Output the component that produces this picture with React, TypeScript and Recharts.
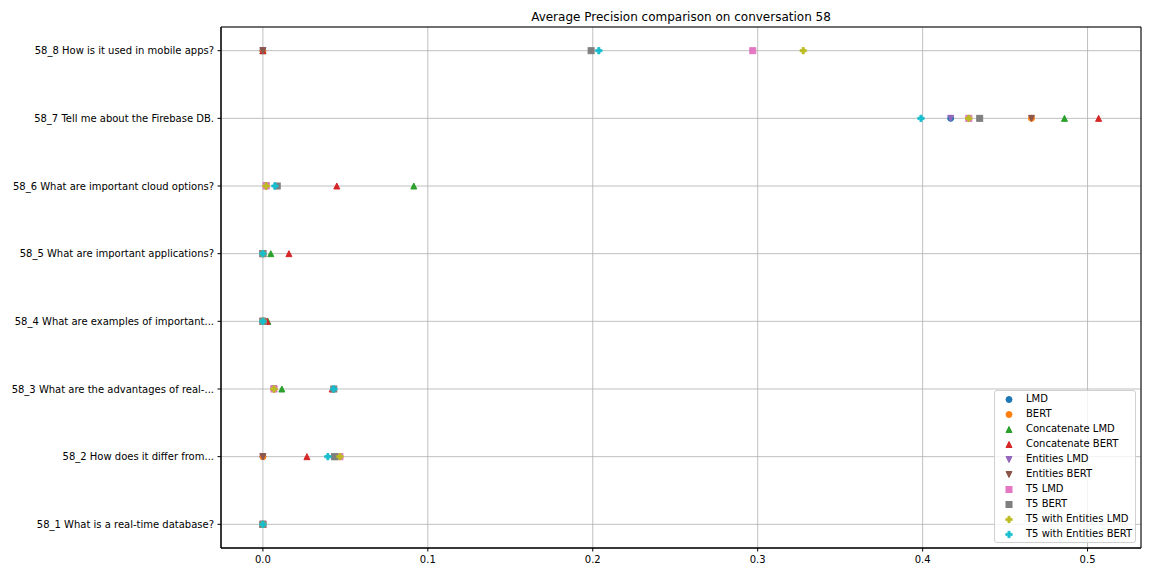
import React from 'react'
import {
  ScatterChart,
  Scatter,
  XAxis,
  YAxis,
  CartesianGrid,
  ReferenceArea,
} from 'recharts'

const preguntas = [
  '58_1 What is a real-time database?',
  '58_2 How does it differ from...',
  '58_3 What are the advantages of real-...',
  '58_4 What are examples of important...',
  '58_5 What are important applications?',
  '58_6 What are important cloud options?',
  '58_7 Tell me about the Firebase DB.',
  '58_8 How is it used in mobile apps?',
]

const lmd = [0, 0, 0.0067, 0, 0, 0.002, 0.417, 0]
const bert = [0, 0, 0.0067, 0, 0, 0.002, 0.466, 0]
const concatLmd = [0, 0.0434, 0.0115, 0.003, 0.0048, 0.0915, 0.486, 0]
const concatBert = [0, 0.0267, 0.042, 0.0025, 0.0158, 0.0448, 0.5067, 0]
const entitiesLmd = [0, 0, 0.0067, 0, 0, 0.002, 0.417, 0]
const entitiesBert = [0, 0, 0.0067, 0, 0, 0.002, 0.466, 0]
const t5Lmd = [0, 0.0467, 0.0067, 0, 0, 0.002, 0.428, 0.297]
const t5Bert = [0, 0.0434, 0.043, 0, 0, 0.0087, 0.4346, 0.199]
const t5EntLmd = [0, 0.0467, 0.0067, 0, 0, 0.002, 0.428, 0.3276]
const t5EntBert = [0, 0.0394, 0.043, 0, 0, 0.0073, 0.399, 0.2037]

const xTicks = [0, 0.1, 0.2, 0.3, 0.4, 0.5]
const yTicks = [0, 1, 2, 3, 4, 5, 6, 7]

type Marca = 'o' | '^' | 'v' | 's' | 'P'

const series: { nombre: string; valores: number[]; color: string; marca: Marca }[] = [
  { nombre: 'LMD', valores: lmd, color: '#1f77b4', marca: 'o' },
  { nombre: 'BERT', valores: bert, color: '#ff7f0e', marca: 'o' },
  { nombre: 'Concatenate LMD', valores: concatLmd, color: '#2ca02c', marca: '^' },
  { nombre: 'Concatenate BERT', valores: concatBert, color: '#d62728', marca: '^' },
  { nombre: 'Entities LMD', valores: entitiesLmd, color: '#9467bd', marca: 'v' },
  { nombre: 'Entities BERT', valores: entitiesBert, color: '#8c564b', marca: 'v' },
  { nombre: 'T5 LMD', valores: t5Lmd, color: '#e377c2', marca: 's' },
  { nombre: 'T5 BERT', valores: t5Bert, color: '#7f7f7f', marca: 's' },
  { nombre: 'T5 with Entities LMD', valores: t5EntLmd, color: '#bcbd22', marca: 'P' },
  { nombre: 'T5 with Entities BERT', valores: t5EntBert, color: '#17becf', marca: 'P' },
]

const FUENTE = '"DejaVu Sans", sans-serif'

function marcador(marca: Marca, cx: number, cy: number, color: string) {
  const r = 3
  switch (marca) {
    case 'o':
      return <circle cx={cx} cy={cy} r={r} fill={color} stroke={color} strokeWidth={1} />
    case '^':
      return (
        <polygon
          points={`${cx},${cy - r} ${cx - r},${cy + r} ${cx + r},${cy + r}`}
          fill={color}
          stroke={color}
          strokeWidth={1}
        />
      )
    case 'v':
      return (
        <polygon
          points={`${cx},${cy + r} ${cx - r},${cy - r} ${cx + r},${cy - r}`}
          fill={color}
          stroke={color}
          strokeWidth={1}
        />
      )
    case 's':
      return (
        <rect x={cx - r} y={cy - r} width={2 * r} height={2 * r} fill={color} stroke={color} strokeWidth={1} />
      )
    case 'P': {
      const a = 3.2
      const b = 1.1
      const d = `M${cx - b},${cy - a}H${cx + b}V${cy - b}H${cx + a}V${cy + b}H${cx + b}V${cy + a}H${cx - b}V${cy + b}H${cx - a}V${cy - b}H${cx - b}Z`
      return <path d={d} fill={color} stroke={color} strokeWidth={0.8} />
    }
  }
}

// etiqueta del eje Y sin saltos de línea
function TickPregunta({ x, y, payload }: { x?: number; y?: number; payload?: { value: number } }) {
  return (
    <text x={x} y={y} dy="0.355em" textAnchor="end" fontSize={10} fill="#000" fontFamily={FUENTE}>
      {preguntas[payload?.value ?? 0]}
    </text>
  )
}

function Leyenda() {
  return (
    <div
      style={{
        position: 'absolute',
        left: 994,
        top: 390,
        width: 140,
        height: 151,
        border: '1px solid #d0d0d0',
        borderRadius: 3,
        background: 'rgba(255,255,255,0.8)',
        fontFamily: FUENTE,
        fontSize: 10,
        color: '#000',
      }}
    >
      {series.map((s, i) => (
        <div
          key={s.nombre}
          style={{ position: 'absolute', left: 0, top: 1 + i * 15, height: 15, width: 140 }}
        >
          <svg width={20} height={15} style={{ position: 'absolute', left: 6, top: 0 }}>
            {marcador(s.marca, 8, 7.5, s.color)}
          </svg>
          <span style={{ position: 'absolute', left: 31, top: 1, whiteSpace: 'nowrap' }}>{s.nombre}</span>
        </div>
      ))}
    </div>
  )
}

export default function App() {
  return (
    <div style={{ position: 'absolute', left: 0, top: 0, width: 1152, height: 576, background: '#fff' }}>
      <div
        style={{
          position: 'absolute',
          left: 221,
          width: 920,
          top: 10,
          textAlign: 'center',
          fontFamily: FUENTE,
          fontSize: 12,
          color: '#000',
        }}
      >
        Average Precision comparison on conversation 58
      </div>
      <ScatterChart
        width={1152}
        height={576}
        margin={{ top: 27, right: 11, left: 0, bottom: 0 }}
        style={{ fontFamily: FUENTE }}
      >
        <CartesianGrid stroke="#b0b0b0" strokeWidth={0.8} />
        <XAxis
          type="number"
          dataKey="x"
          domain={[-0.0254, 0.5324]}
          ticks={xTicks}
          allowDataOverflow
          height={28}
          tickSize={3.5}
          tickMargin={4.5}
          tickFormatter={(v: number) => v.toFixed(1)}
          tick={{ fontSize: 10, fill: '#000' }}
          axisLine={{ stroke: '#000' }}
          tickLine={{ stroke: '#000' }}
        />
        <YAxis
          type="number"
          dataKey="y"
          domain={[-0.35, 7.35]}
          ticks={yTicks}
          allowDataOverflow
          width={221}
          tickSize={3.5}
          tickMargin={3.5}
          tick={<TickPregunta />}
          axisLine={{ stroke: '#000' }}
          tickLine={{ stroke: '#000' }}
        />
        {series.map((s) => (
          <Scatter
            key={s.nombre}
            name={s.nombre}
            data={s.valores.map((v, i) => ({ x: v, y: i }))}
            fill={s.color}
            isAnimationActive={false}
            shape={(p: any) => marcador(s.marca, p.cx, p.cy, s.color)}
          />
        ))}
        <ReferenceArea
          x1={-0.0254}
          x2={0.5324}
          y1={-0.35}
          y2={7.35}
          fill="none"
          fillOpacity={0}
          stroke="#000"
          strokeWidth={1}
        />
      </ScatterChart>
      <Leyenda />
    </div>
  )
}
